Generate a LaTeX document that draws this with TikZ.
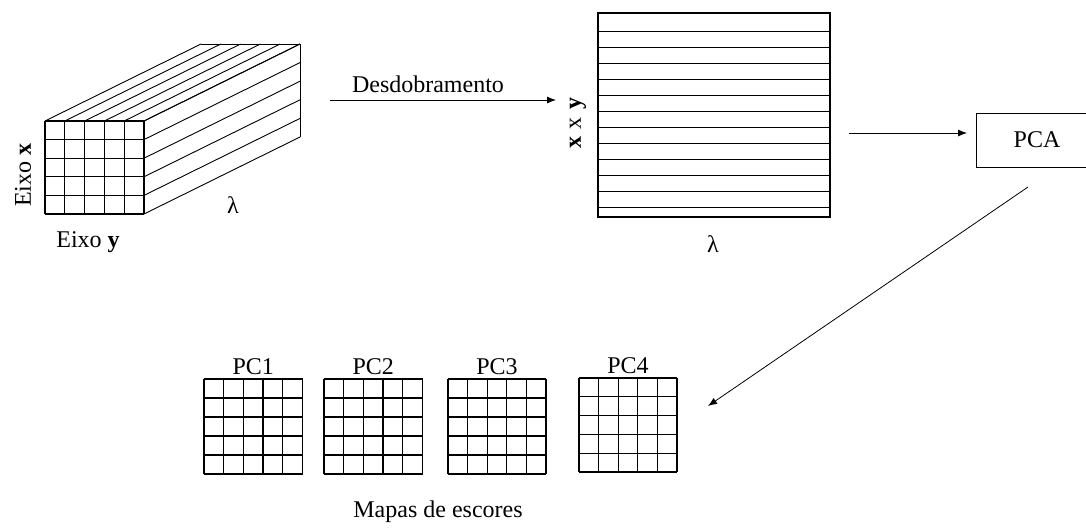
\documentclass[tikz,border=0pt]{standalone}
\usepackage{fontspec}
\setmainfont{Liberation Serif}
\usetikzlibrary{arrows.meta}
\begin{document}
\begin{tikzpicture}[x=1pt,y=-1pt,
  lbl/.style={font=\fontsize{24}{28}\selectfont, inner sep=0pt},
  thin line/.style={line width=0.9pt},
  grid line/.style={line width=1.3pt},
  arr/.style={line width=0.8pt, -{Latex[length=9pt,width=7pt]}},
  box/.style={draw, line width=1.1pt, minimum width=124pt, minimum height=54pt, inner sep=0pt, anchor=north west}]
\useasboundingbox (0,0) rectangle (1086,527);
\clip (0,0) rectangle (1086,527);
% ---- cube ----
\foreach \i in {0,...,5} {
  \draw[thin line] (45+19.8*\i,121) -- ++(156,-77);
  \draw[thin line] (144,121+18.6*\i) -- ++(156,-77);
  \draw[grid line] (45+19.8*\i,121) -- (45+19.8*\i,214);
  \draw[grid line] (45,121+18.6*\i) -- (144,121+18.6*\i);
}
\draw[thin line] (201,44) -- (300,44) -- (300,137);
\node[lbl] (lam1) at (233,205) {λ};
\node[lbl] (eixoy) at (88,242) {Eixo \textbf{y}};
\node[lbl, rotate=90] (eixox) at (23,175) {Eixo \textbf{x}};
% ---- unfolding arrow ----
\coordinate (d1) at (330,100);
\coordinate (d2) at (556,100);
\draw[arr] (d1) -- (d2);
\node[lbl] (desd) at (428,84) {Desdobramento};
% ---- matrix ----
\draw[line width=1.1pt] (598,13) rectangle (830,217);
\foreach \k in {0,...,11} {
  \draw[line width=0.9pt] (598,31+16*\k) -- (830,31+16*\k);
}
\node[lbl, rotate=90] (xxy) at (578,123) {\textbf{x}\hspace{0.3em}x\hspace{0.3em}\textbf{y}};
\node[lbl] (lam2) at (713,244) {λ};
% ---- PCA ----
\node[box] (pca) at (976,113) {};
\node[lbl] (pcatext) at (1037,140) {PCA};
\coordinate (p1) at (849,133);
\coordinate (p2) at (967,133);
\draw[arr] (p1) -- (p2);
\coordinate (q1) at (1028,187);
\coordinate (q2) at (708,406);
\draw[arr] (q1) -- (q2);
% ---- score maps ----
\foreach \n/\x/\y/\w/\h in {1/204/379/98.5/95, 2/324/379/98.5/95, 3/448/379/98/95, 4/579/378/98/94} {
  \foreach \i in {0,...,5} {
    \draw[grid line] (\x+\w/5*\i,\y) -- (\x+\w/5*\i,\y+\h);
    \draw[grid line] (\x,\y+\h/5*\i) -- (\x+\w,\y+\h/5*\i);
  }
  \node[lbl, anchor=base] (pc\n) at (\x+\w/2,\y-5) {PC\n};
}
\node[lbl] (mapas) at (438,512) {Mapas de escores};
\end{tikzpicture}
\end{document}
